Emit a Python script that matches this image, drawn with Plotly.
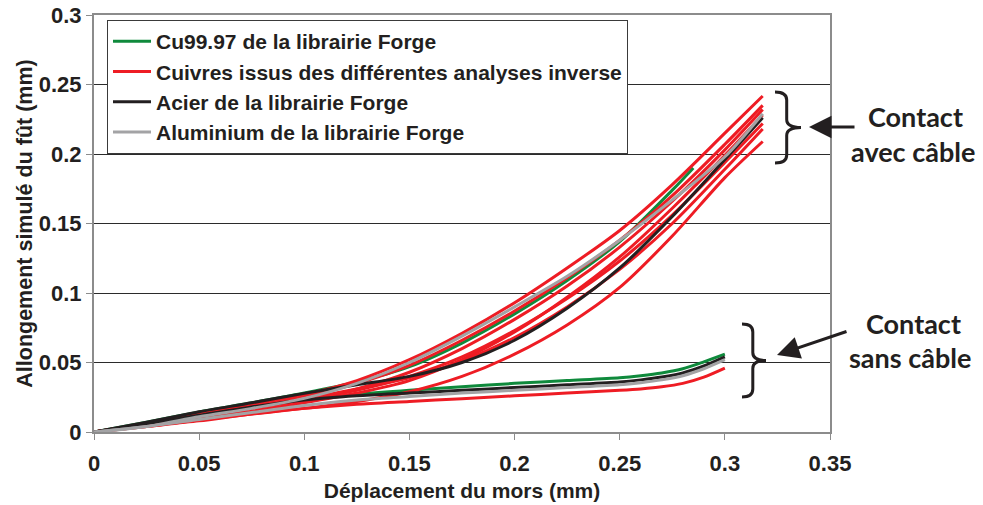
"""Allongement simulé du fût vs déplacement du mors (contact avec / sans câble)."""

import plotly.graph_objects as go

# ---- data -------------------------------------------------------------
# x values (mm) for the "contact avec câble" curves
X_UP = [0, 0.025, 0.05, 0.075, 0.1, 0.125, 0.15, 0.175, 0.2, 0.225, 0.25, 0.275, 0.3, 0.318]
X_UP_CU = [0, 0.025, 0.05, 0.075, 0.1, 0.125, 0.15, 0.175, 0.2, 0.225, 0.25, 0.275, 0.285]
# x values (mm) for the "contact sans câble" curves
X_LOW = [0, 0.025, 0.05, 0.075, 0.1, 0.125, 0.15, 0.175, 0.2, 0.225, 0.25, 0.26, 0.27, 0.28, 0.29, 0.3]

CU_UP = [0, 0.007, 0.0145, 0.021, 0.028, 0.036, 0.047, 0.064, 0.085, 0.109, 0.137, 0.174, 0.19]
ACIER_UP = [0, 0.007, 0.0146, 0.021, 0.0278, 0.034, 0.040, 0.050, 0.066, 0.089, 0.118, 0.155, 0.196, 0.226]
ALU_UP = [0, 0.004, 0.011, 0.017, 0.0242, 0.035, 0.050, 0.069, 0.090, 0.112, 0.138, 0.167, 0.198, 0.229]
CUIVRES_UP = [
    [0, 0.006, 0.013, 0.020, 0.027, 0.037, 0.052, 0.071, 0.093, 0.118, 0.145, 0.178, 0.215, 0.2417],
    [0, 0.006, 0.013, 0.019, 0.026, 0.035, 0.048, 0.066, 0.087, 0.111, 0.138, 0.170, 0.207, 0.235],
    [0, 0.005, 0.011, 0.017, 0.023, 0.031, 0.043, 0.060, 0.081, 0.105, 0.133, 0.166, 0.203, 0.232],
    [0, 0.005, 0.010, 0.015, 0.021, 0.028, 0.037, 0.052, 0.072, 0.097, 0.126, 0.161, 0.199, 0.228],
    [0, 0.005, 0.011, 0.017, 0.023, 0.030, 0.040, 0.054, 0.073, 0.096, 0.123, 0.156, 0.194, 0.222],
    [0, 0.006, 0.012, 0.018, 0.024, 0.031, 0.039, 0.051, 0.068, 0.090, 0.117, 0.150, 0.189, 0.218],
    [0, 0.004, 0.0086, 0.013, 0.017, 0.022, 0.029, 0.040, 0.056, 0.077, 0.104, 0.141, 0.183, 0.209],
]

CU_LOW = [0, 0.006, 0.012, 0.018, 0.023, 0.027, 0.030, 0.0325, 0.035, 0.037, 0.039, 0.0405, 0.0425, 0.0455, 0.0505, 0.056]
ACIER_LOW = [0, 0.006, 0.012, 0.018, 0.023, 0.026, 0.028, 0.030, 0.032, 0.034, 0.036, 0.0375, 0.0395, 0.0425, 0.0475, 0.054]
ALU_LOW = [0, 0.004, 0.009, 0.014, 0.019, 0.023, 0.0255, 0.028, 0.030, 0.032, 0.034, 0.0355, 0.0375, 0.0405, 0.0455, 0.052]
CUIVRE_LOW = [0, 0.004, 0.008, 0.013, 0.017, 0.020, 0.022, 0.024, 0.026, 0.028, 0.030, 0.031, 0.0325, 0.035, 0.0395, 0.046]

X_TICKS = [0, 0.05, 0.1, 0.15, 0.2, 0.25, 0.3, 0.35]
Y_TICKS = [0, 0.05, 0.1, 0.15, 0.2, 0.25, 0.3]

# ---- style --------------------------------------------------------------
GREEN = "#0f8a3c"
RED = "#ee1c24"
BLACK = "#231f20"
GRAY = "#a3a3a5"
FONT = "Liberation Sans, Arial, sans-serif"

W, H = 983, 505
# plot area in page pixels
PL, PR, PT, PB = 94, 830, 15, 432


def paper(xp, yp):
    return (xp - PL) / (PR - PL), (PB - yp) / (PB - PT)


def brace_path(left, top, bottom, tip):
    """Curly brace '}' built from pixel positions, returned in paper units."""
    spine = left + (tip - left) * 0.45
    mid = (top + bottom) / 2
    r = 8
    pts = [
        ("M", [(left, top)]),
        ("Q", [(spine, top), (spine, top + r)]),
        ("L", [(spine, mid - r)]),
        ("Q", [(spine, mid), (tip, mid)]),
        ("Q", [(spine, mid), (spine, mid + r)]),
        ("L", [(spine, bottom - r)]),
        ("Q", [(spine, bottom), (left, bottom)]),
    ]
    out = []
    for cmd, coords in pts:
        seg = " ".join("%.5f,%.5f" % paper(x, y) for x, y in coords)
        out.append(f"{cmd} {seg}")
    return " ".join(out)


fig = go.Figure()


def add_line(x, y, color, name, show):
    fig.add_trace(
        go.Scatter(
            x=x, y=y, mode="lines",
            line=dict(color=color, width=3, shape="spline", smoothing=0.8),
            name=name, showlegend=show,
            hoverinfo="skip",
        )
    )


NAME_CU = "Cu99.97 de la librairie Forge"
NAME_RED = "Cuivres issus des différentes analyses inverse"
NAME_ACIER = "Acier de la librairie Forge"
NAME_ALU = "Aluminium de la librairie Forge"

add_line(X_UP_CU, CU_UP, GREEN, NAME_CU, True)
add_line(X_LOW, CU_LOW, GREEN, NAME_CU, False)
for i, ys in enumerate(CUIVRES_UP):
    add_line(X_UP, ys, RED, NAME_RED, i == 0)
add_line(X_LOW, CUIVRE_LOW, RED, NAME_RED, False)
add_line(X_UP, ACIER_UP, BLACK, NAME_ACIER, True)
add_line(X_LOW, ACIER_LOW, BLACK, NAME_ACIER, False)
add_line(X_UP, ALU_UP, GRAY, NAME_ALU, True)
add_line(X_LOW, ALU_LOW, GRAY, NAME_ALU, False)

# braces
for left, top, bottom, tip in [(775, 92, 163, 801), (742, 324, 397, 766)]:
    fig.add_shape(type="path", xref="paper", yref="paper",
                  path=brace_path(left, top, bottom, tip),
                  line=dict(color=BLACK, width=3))

# arrows
for (hx, hy), (ax, ay) in [((809, 127), (47, 0)), ((777, 355), (71, -24))]:
    x, y = paper(hx, hy)
    fig.add_annotation(x=x, y=y, xref="paper", yref="paper", text="",
                       showarrow=True, ax=ax, ay=ay, arrowhead=2, arrowsize=1.5,
                       arrowwidth=3, arrowcolor=BLACK)

# side labels
for txt, (cx, cy) in [("Contact", (915, 116)), ("avec câble", (913, 151)),
                      ("Contact", (913, 323)), ("sans câble", (910, 357))]:
    x, y = paper(cx, cy)
    fig.add_annotation(x=x, y=y, xref="paper", yref="paper", text=f"<b>{txt}</b>",
                       showarrow=False, xanchor="center", yanchor="middle",
                       font=dict(family="Lato, Noto Sans, sans-serif", size=27, color=BLACK))

axis_common = dict(
    showline=True, linecolor="#8c8c8c", linewidth=2, mirror=True,
    ticks="outside", ticklen=6, tickcolor="#8c8c8c",
    tickfont=dict(family=FONT, size=22, color=BLACK, weight="bold"),
    zeroline=False, automargin=False, ticklabeloverflow="allow",
)

fig.update_xaxes(
    range=[0, 0.35], tickvals=X_TICKS, ticktext=[f"{v:g}" for v in X_TICKS],
    showgrid=False, ticklabelstandoff=5,
    title=dict(text="<b>Déplacement du mors (mm)</b>", standoff=8,
               font=dict(family=FONT, size=21, color=BLACK)),
    **axis_common,
)
fig.update_yaxes(
    range=[0, 0.3], tickvals=Y_TICKS, ticktext=[f"{v:g}" for v in Y_TICKS],
    showgrid=True, gridcolor="#2b2b2b", gridwidth=1,
    title=dict(text="<b>Allongement simulé du fût (mm)</b>", standoff=0,
               font=dict(family=FONT, size=21.5, color=BLACK)),
    **axis_common,
)

fig.update_layout(
    width=W, height=H,
    margin=dict(l=PL, r=W - PR, t=PT, b=H - PB, autoexpand=False),
    plot_bgcolor="white", paper_bgcolor="white",
    showlegend=True,
    legend=dict(
        x=paper(107, 20)[0], y=paper(107, 20)[1], xanchor="left", yanchor="top",
        bgcolor="white", bordercolor="#3a3a3a", borderwidth=1,
        font=dict(family=FONT, size=21, color=BLACK, weight="bold"),
        traceorder="normal", itemwidth=38,
    ),
)

# drop the default 8px body margin so the figure fills the window exactly
fig.write_html("out.html", config={"displayModeBar": False},
               post_script="document.body.style.margin = '0';")
